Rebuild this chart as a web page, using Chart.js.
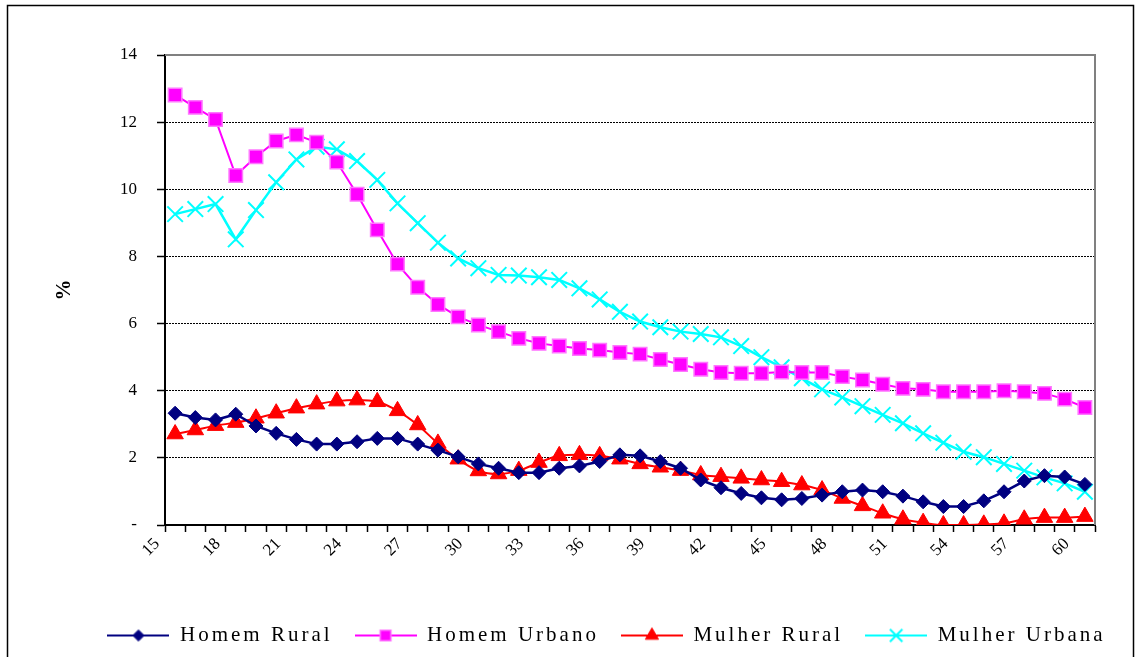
<!DOCTYPE html>
<html>
<head>
<meta charset="utf-8">
<script src="https://cdn.jsdelivr.net/npm/chart.js@4/dist/chart.umd.min.js"></script>
<style>
  html, body { margin: 0; padding: 0; background: #fff; }
  canvas { display: block; }
</style>
</head>
<body>
<canvas id="grafico" width="1139" height="657"></canvas>
<script>
// idades (eixo x) e séries em %
const idades = ['15','16','17','18','19','20','21','22','23','24','25','26','27','28','29',
                '30','31','32','33','34','35','36','37','38','39','40','41','42','43','44',
                '45','46','47','48','49','50','51','52','53','54','55','56','57','58','59','60'];

const homemRural = [3.33,3.20,3.13,3.30,2.95,2.73,2.55,2.41,2.41,2.48,2.58,2.58,2.41,2.23,2.03,
                    1.82,1.69,1.56,1.56,1.69,1.76,1.89,2.09,2.06,1.89,1.69,1.34,1.11,0.94,0.81,
                    0.75,0.79,0.89,0.99,1.04,0.99,0.86,0.69,0.55,0.55,0.72,0.99,1.31,1.47,1.43,1.21];

const homemUrbano = [12.81,12.44,12.08,10.41,10.97,11.44,11.62,11.40,10.81,9.85,8.79,7.77,7.08,6.57,6.20,
                     5.96,5.76,5.56,5.41,5.33,5.26,5.21,5.14,5.09,4.93,4.78,4.64,4.54,4.52,4.52,
                     4.56,4.54,4.54,4.42,4.32,4.19,4.07,4.04,3.97,3.97,3.97,4.00,3.97,3.92,3.75,3.50];

const mulherRural = [2.71,2.83,2.96,3.05,3.18,3.33,3.48,3.60,3.69,3.72,3.67,3.40,2.98,2.43,1.96,
                     1.61,1.52,1.62,1.86,2.06,2.09,2.06,1.96,1.82,1.72,1.62,1.49,1.44,1.39,1.34,
                     1.29,1.19,1.04,0.79,0.57,0.35,0.17,0.07,0.00,0.00,0.02,0.05,0.17,0.22,0.22,0.25];

const mulherUrbana = [9.26,9.41,9.56,8.51,9.38,10.21,10.89,11.27,11.19,10.84,10.28,9.58,8.99,8.41,7.94,
                      7.65,7.45,7.43,7.38,7.30,7.05,6.72,6.35,6.06,5.89,5.76,5.69,5.59,5.33,5.00,
                      4.70,4.37,4.04,3.80,3.54,3.28,3.03,2.73,2.45,2.18,2.02,1.82,1.62,1.42,1.24,0.99];

const yTicks = [0, 2, 4, 6, 8, 10, 12, 14];

const serif = "'Liberation Serif', 'Times New Roman', serif";

const datasets = [
  { label: 'Homem Rural', data: homemRural, borderColor: '#000080', borderWidth: 2.5,
    pointStyle: 'rectRot', pointRadius: 7, pointBackgroundColor: '#000080',
    pointBorderColor: '#000080', pointBorderWidth: 1, tension: 0 },
  { label: 'Homem Urbano', data: homemUrbano, borderColor: '#ff00ff', borderWidth: 2,
    pointStyle: 'rect', pointRadius: 9.5, pointBackgroundColor: '#ff00ff',
    pointBorderColor: '#ff77ff', pointBorderWidth: 1.5, tension: 0 },
  { label: 'Mulher Rural', data: mulherRural, borderColor: '#ff0000', borderWidth: 2,
    pointStyle: 'triangle', pointRadius: 9.5, pointBackgroundColor: '#ff0000',
    pointBorderColor: '#ff0000', pointBorderWidth: 1, tension: 0.4,
    cubicInterpolationMode: 'monotone' },
  { label: 'Mulher Urbana', data: mulherUrbana, borderColor: '#00ffff', borderWidth: 2.5,
    pointStyle: 'crossRot', pointRadius: 11, pointBackgroundColor: '#00ffff',
    pointBorderColor: '#00ffff', pointBorderWidth: 2, tension: 0 }
];

// pequeno desenho (linha + marcador) para a legenda
function iconeLegenda(ds) {
  const c = document.createElement('canvas');
  c.width = 62; c.height = 20;
  const g = c.getContext('2d');
  g.strokeStyle = ds.borderColor;
  g.lineWidth = 2;
  g.beginPath(); g.moveTo(0, 10); g.lineTo(62, 10); g.stroke();
  g.fillStyle = ds.pointBackgroundColor;
  g.strokeStyle = ds.pointBorderColor;
  g.lineWidth = ds.pointBorderWidth;
  Chart.helpers.drawPoint(g, { pointStyle: ds.pointStyle, radius: ds.pointRadius * 0.8,
    rotation: 0, borderWidth: ds.pointBorderWidth }, 31, 10);
  return c;
}
const icones = datasets.map(iconeLegenda);

// moldura externa e borda cinza da área do gráfico
const moldura = {
  id: 'moldura',
  beforeDraw(chart) {
    const ctx = chart.ctx;
    ctx.save();
    ctx.fillStyle = '#fff';
    ctx.fillRect(0, 0, chart.width, chart.height);
    ctx.strokeStyle = '#000';
    ctx.lineWidth = 1.5;
    ctx.strokeRect(7.5, 5.5, 1126, 700);
    ctx.restore();
  },
  beforeDatasetsDraw(chart) {
    const { left, right, top, bottom } = chart.chartArea;
    const ctx = chart.ctx;
    ctx.save();
    ctx.strokeStyle = '#808080';
    ctx.lineWidth = 2;
    ctx.beginPath();
    ctx.moveTo(left, top);
    ctx.lineTo(right, top);
    ctx.lineTo(right, bottom);
    ctx.stroke();
    ctx.restore();
  }
};

// legenda com espaçamento entre letras (o texto do original é bem largo)
const legendaEspacada = {
  id: 'legendaEspacada',
  afterInit(chart) {
    const leg = chart.legend;
    if (!leg) return;
    const fit = leg.fit, draw = leg.draw;
    leg.fit = function () {
      this.ctx.letterSpacing = '3px';
      fit.call(this);
      this.ctx.letterSpacing = '0px';
      this.height = 54;
    };
    leg.draw = function () {
      this.ctx.save();
      this.ctx.letterSpacing = '3px';
      this.ctx.translate(59, 0);
      draw.call(this);
      this.ctx.restore();
    };
  }
};

new Chart(document.getElementById('grafico').getContext('2d'), {
  type: 'line',
  data: { labels: idades, datasets: datasets },
  plugins: [moldura, legendaEspacada],
  options: {
    responsive: false,
    animation: false,
    events: [],
    layout: { padding: { left: 0, right: 44, top: 55, bottom: 0 } },
    scales: {
      x: {
        type: 'category',
        offset: true,
        grid: { offset: true, drawOnChartArea: false, drawTicks: true,
                tickLength: 7, tickColor: '#000', tickWidth: 1.5 },
        border: { color: '#000', width: 2 },
        ticks: {
          autoSkip: false, maxRotation: 45, minRotation: 45,
          color: '#000', font: { family: serif, size: 17 }, padding: 2, labelOffset: -18,
          callback: (v, i) => (i % 3 === 0 ? idades[i] : '')
        },
        afterFit: (s) => { s.height = 78; }
      },
      y: {
        min: 0, max: 14,
        afterBuildTicks: (s) => { s.ticks = yTicks.map(v => ({ value: v })); },
        grid: { color: '#000', lineWidth: 1, drawTicks: true, tickLength: 8,
                tickColor: '#000', tickWidth: 1.5 },
        border: { color: '#000', width: 2, dash: [2, 1] },
        ticks: {
          color: '#000', font: { family: serif, size: 17 }, padding: 20,
          callback: (v) => (v === 0 ? '-' : v)
        },
        title: { display: true, text: '%', color: '#000',
                 font: { family: serif, size: 21, weight: 'bold' }, padding: { top: 52, bottom: 0 } },
        afterFit: (s) => { s.width = 165; }
      }
    },
    plugins: {
      legend: {
        position: 'bottom',
        labels: {
          usePointStyle: true,
          pointStyleWidth: 62,
          padding: 22,
          color: '#000',
          font: { family: serif, size: 21 },
          generateLabels: (chart) => chart.data.datasets.map((ds, i) => ({
            text: ds.label, pointStyle: icones[i], fillStyle: ds.borderColor,
            strokeStyle: ds.borderColor, lineWidth: 0, hidden: false,
            datasetIndex: i, fontColor: '#000'
          }))
        }
      },
      tooltip: { enabled: false }
    }
  }
});
</script>
</body>
</html>
